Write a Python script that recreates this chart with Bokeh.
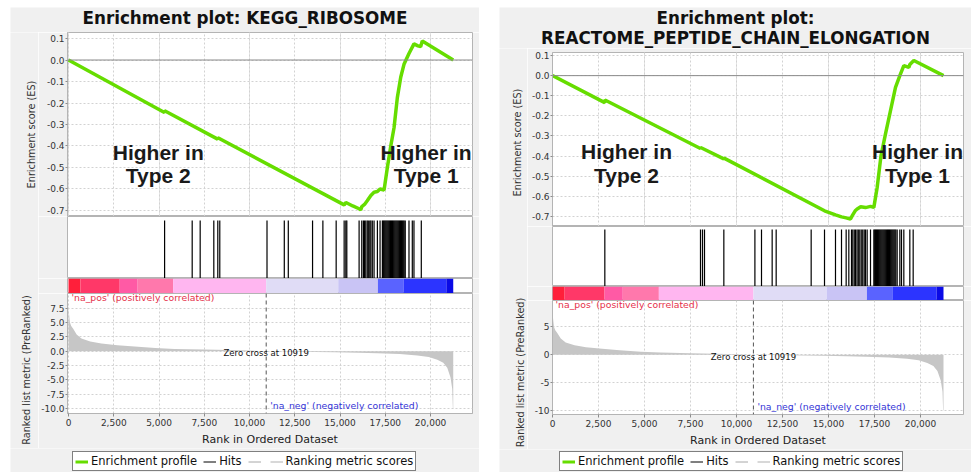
import math
from bokeh.plotting import figure
from bokeh.layouts import row, column
from bokeh.models import (Range1d, Label, Span, Legend, LegendItem, FixedTicker,
                          PrintfTickFormatter, NumeralTickFormatter, Grid, Spacer)
from bokeh.embed import file_html
from bokeh.resources import INLINE

# ---------------- data ----------------
X_TICKS = [0, 2500, 5000, 7500, 10000, 12500, 15000, 17500, 20000]
ES_TICKS = [0.1, 0.0, -0.1, -0.2, -0.3, -0.4, -0.5, -0.6, -0.7]
METRIC_TICKS_LEFT = [7.5, 5.0, 2.5, 0.0, -2.5, -5.0, -7.5, -10.0]
METRIC_TICKS_RIGHT = [5, 0, -5, -10]
ZERO_CROSS = 10919

KEGG_TITLE = ["Enrichment plot: KEGG_RIBOSOME"]
KEGG_ES_RANK = [0, 5300, 5310, 8240, 8250, 15225, 15320, 15700, 16050, 16140, 16200, 16350,
                16500, 16700, 16877, 17060, 17208, 17430, 17612, 17800, 17980, 18163, 18350,
                18530, 18806, 19081, 19300, 19449, 19540, 21250]
KEGG_ES = [0.0, -0.244, -0.236, -0.368, -0.362, -0.674, -0.663, -0.679, -0.692, -0.697, -0.682,
           -0.672, -0.655, -0.630, -0.615, -0.612, -0.600, -0.605, -0.500, -0.400, -0.315, -0.175,
           -0.080, -0.020, 0.030, 0.075, 0.066, 0.062, 0.088, 0.0]
KEGG_HITS = [5308, 6832, 7273, 8026, 8246, 8356, 10964, 11919, 12140, 13480, 14050, 14784,
             15225, 15317, 15372, 16051, 16198, 16290, 16350, 16420, 16500, 16560, 16640, 16700,
             16780, 16877, 17061, 17208, 17337, 17390, 17440, 17490, 17540, 17590, 17640, 17690,
             17740, 17790, 17840, 17890, 17940, 17990, 18040, 18090, 18140, 18190, 18240, 18290,
             18340, 18390, 18440, 18490, 18540, 18600, 18806, 18989, 19081, 19486]

REACT_TITLE = ["Enrichment plot:", "REACTOME_PEPTIDE_CHAIN_ELONGATION"]
REACT_ES_RANK = [0, 2840, 2850, 8040, 8050, 9310, 9320, 14783, 15380, 15707, 15960, 16196, 16300,
                 16450, 16558, 16750, 17010, 17283, 17464, 17645, 17850, 18098, 18370, 18641,
                 18877, 19094, 19366, 19420, 19638, 21250]
REACT_ES = [0.0, -0.134, -0.121, -0.362, -0.357, -0.414, -0.410, -0.672, -0.692, -0.702, -0.707,
            -0.713, -0.695, -0.672, -0.663, -0.652, -0.656, -0.650, -0.655, -0.556, -0.400, -0.290,
            -0.174, -0.058, 0.000, 0.050, 0.041, 0.055, 0.075, 0.0]
REACT_HITS = [2844, 8043, 8152, 8261, 9312, 11000, 11359, 11938, 12156, 14058, 14783, 15380,
              15707, 15960, 16105, 16250, 16320, 16400, 16470, 16550, 16620, 16700, 16780, 16860,
              16940, 17010, 17101, 17283, 17464, 17510, 17560, 17610, 17660, 17710, 17760, 17810,
              17860, 17910, 17960, 18010, 18060, 18110, 18160, 18210, 18260, 18310, 18360, 18410,
              18460, 18510, 18560, 18610, 18660, 18732, 18877, 18967, 19094, 19420, 19602]

METRIC_RANK = [0, 30, 80, 150, 260, 450, 716, 1200, 1818, 2700, 3650, 4800, 5857, 7500, 9500,
               10919, 12500, 14700, 16000, 17060, 18300, 19270, 19900, 20370, 20700, 20920, 21100,
               21195, 21230, 21250]
METRIC_SCORE = [8.5, 6.5, 5.0, 4.4, 3.9, 2.9, 2.2, 1.7, 1.36, 1.05, 0.8, 0.55, 0.4, 0.28, 0.15,
                0.0, -0.08, -0.17, -0.25, -0.34, -0.5, -0.73, -1.0, -1.48, -2.0, -2.9, -4.6,
                -6.6, -10.0, -10.0]

BAR_START = [0, 660, 2830, 3820, 5780, 10919, 14900, 17090, 18500, 20870]
BAR_END = [660, 2830, 3820, 5780, 10919, 14900, 17090, 18500, 20870, 21250]
BAR_COLORS = ["#ff1f3a", "#ff3868", "#ff5aa5", "#ff78ac", "#ffb6f0", "#e0dcf6", "#c9c4f5",
              "#5a63ff", "#2c34ff", "#0a0ae6"]

LEGEND_LABELS = ["Enrichment profile", "Hits", " ", "Ranking metric scores"]

# ---------------- style ----------------
BG = "#f0f0f0"
OUTLINE = "#b4b4b4"
GRID = "#d2d2d2"
GREEN = "#66dd00"
FONT = "DejaVu Sans"
NAN = float("nan")


def frame_style(p):
    p.border_fill_color = BG
    p.background_fill_color = "white"
    p.outline_line_color = OUTLINE
    p.outline_line_width = 1


def blank_fig(width, height):
    p = figure(width=width, height=height, x_range=Range1d(0, width), y_range=Range1d(0, height),
               x_axis_location=None, y_axis_location=None, output_backend="svg",
               toolbar_location=None, min_border=0, title=None)
    p.border_fill_color = BG
    p.background_fill_color = BG
    p.outline_line_color = None
    p.xgrid.visible = False
    p.ygrid.visible = False
    return p


def yaxis_style(ax, ticks, fmt):
    ax.ticker = FixedTicker(ticks=ticks)
    ax.formatter = PrintfTickFormatter(format=fmt)
    ax.axis_label = None
    ax.major_label_text_font = FONT
    ax.major_label_text_font_size = "9px"
    ax.major_label_text_color = "#333333"
    ax.axis_line_color = OUTLINE
    ax.major_tick_line_color = "#8c8c8c"
    ax.major_tick_out = 2
    ax.major_tick_in = 0
    ax.minor_tick_line_color = None
    ax.major_label_standoff = 1


def make_panel(c):
    W = c["width"]
    LW = c["lab_w"]
    PW = W - LW
    ml = c["ml"] - LW
    mr = PW - ml - c["frame_w"]
    xr = Range1d(c["x_start"], c["x_end"])
    base = dict(width=PW, x_range=xr, output_backend="svg", toolbar_location=None,
                min_border_left=ml, min_border_right=mr, title=None)

    # ---- title strip ----
    tfig = blank_fig(W, c["title_h"] - c["es_pad"])
    for txt, ty in c["titles"]:
        tfig.add_layout(Label(x=c["title_x"], y=ty - c["es_pad"], text=txt, text_font=FONT,
                              text_font_size="16.8px", text_font_style="bold",
                              text_color="#111111", text_align="center",
                              text_baseline="middle"))

    # ---- enrichment score plot ----
    es = figure(height=c["es_pad"] + c["h_top"], y_range=Range1d(*c["es_range"]),
                x_axis_location=None, min_border_top=c["es_pad"], min_border_bottom=0, **base)
    frame_style(es)
    yaxis_style(es.yaxis[0], ES_TICKS, "%.1f")
    es.ygrid.grid_line_color = GRID
    es.ygrid.grid_line_dash = "2 2"
    es.add_layout(Grid(dimension=0, ticker=FixedTicker(ticks=X_TICKS),
                       grid_line_color=GRID, grid_line_dash="2 2"))
    es.add_layout(Span(location=0, dimension="width", line_color="#8a8a8a", line_width=1))
    es.line(c["es_x"], c["es_y"], line_color=GREEN, line_width=3.5)
    hx2, hy_a, hy_b = c["higher2"]
    hx1 = c["higher1_x"]
    for hx, txt_b in ((hx2, "Type 2"), (hx1, "Type 1")):
        for txt, hy in (("Higher in", hy_a), (txt_b, hy_b)):
            es.add_layout(Label(x=hx, y=hy, text=txt, text_font="Liberation Sans",
                                text_font_size="21px", text_font_style="bold",
                                text_color="#1a1a1a", text_align="center",
                                text_baseline="middle"))

    # ---- hits ----
    hits = figure(height=c["h_hits"], y_range=Range1d(0, 1), x_axis_location=None,
                  y_axis_location=None, min_border_top=0, min_border_bottom=0, **base)
    frame_style(hits)
    hits.xgrid.visible = False
    hits.ygrid.visible = False
    hits.segment(x0=c["hits"], y0=0, x1=c["hits"], y1=c["hits_top"], line_color="black",
                 line_width=1.2)

    # ---- colour bar ----
    bar = figure(height=c["h_bar"], y_range=Range1d(0, 1), x_axis_location=None,
                 y_axis_location=None, min_border_top=0, min_border_bottom=0, **base)
    frame_style(bar)
    bar.xgrid.visible = False
    bar.ygrid.visible = False
    bar.quad(left=BAR_START, right=BAR_END, bottom=0, top=1, fill_color=BAR_COLORS,
             line_color=None)

    # ---- ranked list metric ----
    bot = figure(height=c["h_bot"] + c["axis_h"], y_range=Range1d(*c["metric_range"]),
                 min_border_top=0, min_border_bottom=c["axis_h"], **base)
    frame_style(bot)
    yaxis_style(bot.yaxis[0], c["metric_ticks"], c["metric_fmt"])
    xa = bot.xaxis[0]
    xa.ticker = FixedTicker(ticks=X_TICKS)
    xa.formatter = NumeralTickFormatter(format="0,0")
    xa.axis_label = "Rank in Ordered Dataset"
    xa.axis_label_text_font = FONT
    xa.axis_label_text_font_size = "11px"
    xa.axis_label_text_font_style = "normal"
    xa.axis_label_text_color = "#222222"
    xa.axis_label_standoff = 4
    xa.major_label_text_font = FONT
    xa.major_label_text_font_size = "9px"
    xa.major_label_text_color = "#333333"
    xa.axis_line_color = OUTLINE
    xa.major_tick_line_color = "#8c8c8c"
    xa.major_tick_out = 3
    xa.major_tick_in = 0
    xa.minor_tick_line_color = None
    xa.major_label_standoff = 2
    for g in (bot.xgrid, bot.ygrid):
        g.grid_line_color = GRID
        g.grid_line_dash = "2 2"
    bot.varea(x=METRIC_RANK, y1=0, y2=METRIC_SCORE, fill_color="#c6c6c6")
    bot.add_layout(Span(location=ZERO_CROSS, dimension="height", line_color="#555555",
                        line_width=1, line_dash="4 3"))
    bot.add_layout(Label(x=ZERO_CROSS, y=c["zero_y"], text=f"Zero cross at {ZERO_CROSS}",
                         text_font=FONT, text_font_size="8.5px", text_color="#111111",
                         text_align="center", text_baseline="middle"))
    bot.add_layout(Label(x=ZERO_CROSS, y=c["neg_y"], x_offset=4,
                         text="'na_neg' (negatively correlated)", text_font=FONT,
                         text_font_size="9.3px", text_color="#3434d6", text_align="left",
                         text_baseline="middle"))
    bot.add_layout(Label(x=c["pos_label"][0], y=c["pos_label"][1], x_units="screen",
                         y_units="screen", text="'na_pos' (positively correlated)",
                         text_font=FONT, text_font_size="9.3px", text_color="#e5304a",
                         text_align="left", text_baseline="middle"))

    # ---- y-axis titles strip ----
    lab_h = c["h_top"] + c["es_pad"] + c["h_hits"] + c["h_bar"] + c["h_bot"] + c["axis_h"]
    lfig = blank_fig(LW, lab_h)
    for (lx, ly), txt in ((c["es_label"], "Enrichment score (ES)"),
                          (c["metric_label"], "Ranked list metric (PreRanked)")):
        lfig.add_layout(Label(x=lx, y=ly, text=txt, text_font=FONT, text_font_size="9.7px",
                              text_color="#333333", text_align="center",
                              text_baseline="middle", angle=math.pi / 2))

    # ---- legend strip ----
    gfig = blank_fig(W, c["legend_h"])
    r_es = gfig.line(x=[NAN], y=[NAN], line_color=GREEN, line_width=3)
    r_hit = gfig.line(x=[NAN], y=[NAN], line_color="black", line_width=1)
    r_gap = gfig.line(x=[NAN], y=[NAN], line_color="#a8a8a8", line_width=1)
    r_met = gfig.line(x=[NAN], y=[NAN], line_color="#d8d8d8", line_width=2)
    leg = Legend(items=[LegendItem(label=lab, renderers=[r])
                        for lab, r in zip(LEGEND_LABELS, (r_es, r_hit, r_gap, r_met))],
                 orientation="horizontal", location=(c["leg_x"], 1), margin=0, padding=2,
                 spacing=6, label_standoff=3, glyph_width=13, glyph_height=13, label_height=13,
                 label_width=0,
                 label_text_font=FONT, label_text_font_size="11.5px", label_text_color="#111111",
                 border_line_color="black", border_line_width=1, background_fill_color="white",
                 background_fill_alpha=1.0)
    gfig.add_layout(leg, "center")

    return column(tfig, row(lfig, column(es, hits, bar, bot)), gfig)


LEFT = dict(width=469, lab_w=28, ml=56, frame_w=406, x_start=-55, x_end=22314,
            title_h=25, es_pad=0, h_top=184, h_hits=62, h_bar=15, h_bot=123, axis_h=32,
            legend_h=24,
            es_range=(-0.728, 0.128), metric_range=(-10.85, 10.05),
            metric_ticks=METRIC_TICKS_LEFT, metric_fmt="%.1f",
            titles=[(KEGG_TITLE[0], 15)], title_x=234.5,
            es_x=KEGG_ES_RANK, es_y=KEGG_ES, hits=KEGG_HITS, hits_top=0.935,
            higher2=(4959, -0.428, -0.535), higher1_x=19752,
            es_label=(21, 314), metric_label=(16, 78.5), pos_label=(4, 116),
            zero_y=-0.34, neg_y=-9.51, leg_x=62)

RIGHT = dict(width=472, lab_w=28, ml=53, frame_w=411, x_start=0, x_end=22337,
             title_h=45, es_pad=4, h_top=174, h_hits=60, h_bar=14, h_bot=117, axis_h=32,
             legend_h=23,
             es_range=(-0.75, 0.115), metric_range=(-10.70, 9.71),
             metric_ticks=METRIC_TICKS_RIGHT, metric_fmt="%d",
             titles=[(REACT_TITLE[0], 35), (REACT_TITLE[1], 15)], title_x=236,
             es_x=REACT_ES_RANK, es_y=REACT_ES, hits=REACT_HITS, hits_top=0.95,
             higher2=(4022, -0.378, -0.4975), higher1_x=19837,
             es_label=(18, 307), metric_label=(21, 77), pos_label=(3, 110),
             zero_y=-0.35, neg_y=-9.24, leg_x=60)

page = column(Spacer(width=10, height=7),
              row(Spacer(width=10, height=10), make_panel(LEFT), Spacer(width=20, height=10),
                  make_panel(RIGHT)))

open("out.html", "w").write(file_html(page, INLINE))
